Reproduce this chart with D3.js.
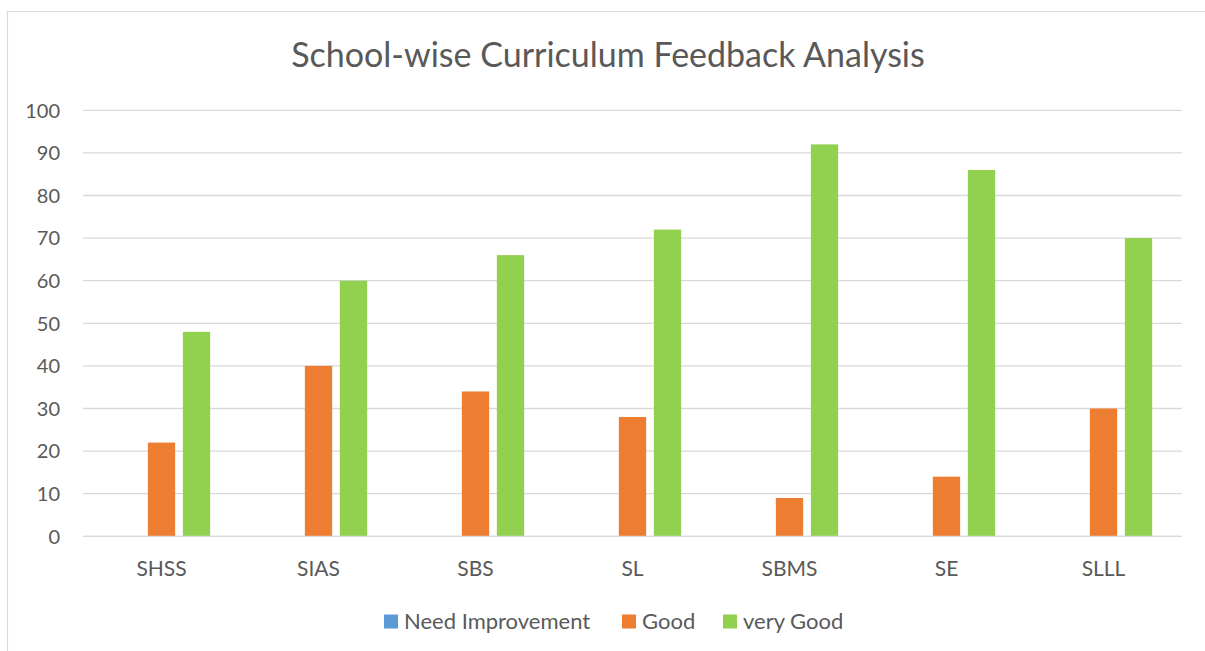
<!DOCTYPE html>
<html>
<head>
<meta charset="utf-8">
<script src="https://cdn.jsdelivr.net/npm/d3@7"></script>
<style>
html,body{margin:0;padding:0;background:#fff;}
svg{display:block;}
text{font-family:Lato,"Open Sans",sans-serif;fill:#595959;}
</style>
</head>
<body>
<svg id="chart" width="1205" height="651"></svg>
<script>
const categories = ["SHSS","SIAS","SBS","SL","SBMS","SE","SLLL"];
const seriesNames = ["Need Improvement","Good","very Good"];
const needImprovement = [0,0,0,0,0,0,0];
const good = [22,40,34,28,9,14,30];
const veryGood = [48,60,66,72,92,86,70];
const yTicks = [0,10,20,30,40,50,60,70,80,90,100];
const colors = ["#5B9BD5","#ED7D31","#92D050"];
const title = "School-wise Curriculum Feedback Analysis";

(function(){
const seriesValues = [needImprovement, good, veryGood];
const svg = d3.select("#chart");

// chart border
svg.append("path").attr("d","M7.5,651 V11.5 H1205")
  .attr("fill","none").attr("stroke","#d9d9d9").attr("stroke-width",1.2);

const pLeft = 83, pRight = 1182, pTop = 110.3, pBottom = 536.3;

const x0 = d3.scaleBand().domain(categories).range([pLeft,pRight]).padding(0);
const x1 = d3.scaleBand().domain(seriesNames).range([-48.65,48.65]).paddingInner(0.22);
const y = d3.scaleLinear().domain([0,100]).range([pBottom,pTop]);

// gridlines
svg.append("g").selectAll("line").data(yTicks).join("line")
  .attr("x1",pLeft).attr("x2",pRight)
  .attr("y1",d=>y(d)).attr("y2",d=>y(d))
  .attr("stroke","#d9d9d9").attr("stroke-width",1.3);

// y tick labels
svg.append("g").selectAll("text").data(yTicks).join("text")
  .attr("x",60).attr("y",d=>y(d)).attr("dy","0.36em")
  .attr("text-anchor","end").attr("font-size",20).text(d=>d);

// bars
const data = [];
categories.forEach((c,i)=>{
  seriesNames.forEach((s,j)=>{
    data.push({c, s, v: seriesValues[j][i], color: colors[j]});
  });
});
svg.append("g").selectAll("rect").data(data.filter(d=>d.v>0)).join("rect")
  .attr("x",d=>x0(d.c)+x0.bandwidth()/2+x1(d.s))
  .attr("width",x1.bandwidth())
  .attr("y",d=>y(d.v))
  .attr("height",d=>y(0)-y(d.v))
  .attr("fill",d=>d.color);

// baseline
svg.append("line").attr("x1",pLeft).attr("x2",pRight)
  .attr("y1",y(0)).attr("y2",y(0)).attr("stroke","#d9d9d9").attr("stroke-width",1.3);

// x labels
svg.append("g").selectAll("text").data(categories).join("text")
  .attr("x",d=>x0(d)+x0.bandwidth()/2).attr("y",576)
  .attr("text-anchor","middle").attr("font-size",21).text(d=>d);

// title
svg.append("text").attr("x",608).attr("y",67).attr("text-anchor","middle")
  .attr("font-size",34).text(title);

// legend
const legendX = [384,622,723];
const lg = svg.append("g").selectAll("g").data(seriesNames).join("g")
  .attr("transform",(d,i)=>`translate(${legendX[i]},614.5)`);
lg.append("rect").attr("width",14).attr("height",14).attr("fill",(d,i)=>colors[i]);
lg.append("text").attr("x",20).attr("y",14).attr("font-size",22).text(d=>d);
})();
</script>
</body>
</html>
